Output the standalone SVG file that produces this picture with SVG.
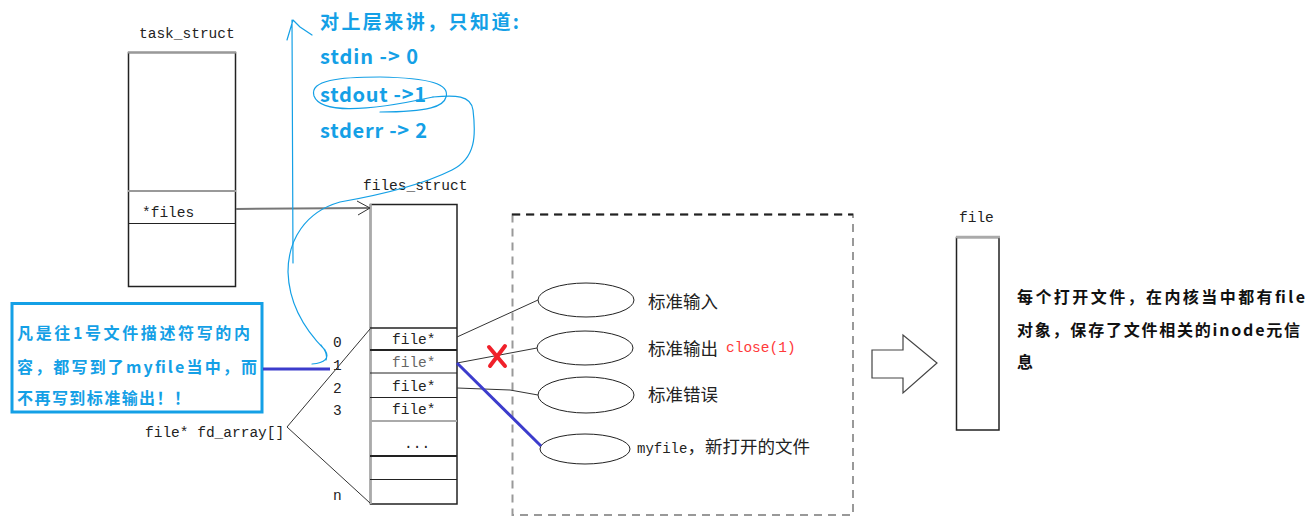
<svg xmlns="http://www.w3.org/2000/svg" width="1311" height="529" viewBox="0 0 1311 529">
<style>
.mono{font-family:"Liberation Mono","DejaVu Sans Mono",monospace;font-size:14.5px;fill:#222}
.cn{font-family:"Noto Sans CJK SC","Noto Sans",sans-serif;font-size:17.5px;fill:#222}
.blue{font-family:"Noto Sans CJK SC","Noto Sans",sans-serif;font-weight:bold;fill:#14a0e6}
.bold{font-family:"Noto Sans CJK SC","Noto Sans",sans-serif;font-weight:bold;font-size:16px;fill:#111}
.dk{stroke:#222;fill:none}
.conn{stroke:#333;stroke-width:1;fill:none}
.hand{stroke:#14a0e6;stroke-width:1.2;fill:none;stroke-linecap:round;stroke-linejoin:round}
</style>
<rect width="1311" height="529" fill="#fff"/>

<g id="task_struct">
<text class="mono" x="139" y="38">task_struct</text>
<rect x="128.5" y="52.5" width="107" height="234" class="dk" stroke-width="1.5"/>
<line x1="128" y1="52.5" x2="236" y2="52.5" stroke="#999" stroke-width="2"/>
<line x1="128" y1="191" x2="236" y2="191" stroke="#999" stroke-width="2"/>
<line x1="128" y1="223.5" x2="236" y2="223.5" class="dk"/>
<text class="mono" x="142" y="217">*files</text>
</g>

<g id="files_struct">
<text class="mono" x="363" y="190">files_struct</text>
<rect x="370.5" y="204.5" width="86.5" height="299.5" class="dk" stroke-width="1.5"/>
<line x1="370.5" y1="204" x2="370.5" y2="504" stroke="#aaa" stroke-width="2.5"/>
<line x1="370" y1="328" x2="457" y2="328" class="dk" stroke-width="1.5"/>
<line x1="370" y1="350" x2="457" y2="350" class="dk" stroke-width="1.8"/>
<line x1="370" y1="373" x2="457" y2="373" class="dk"/>
<line x1="370" y1="397.5" x2="457" y2="397.5" class="dk"/>
<line x1="370" y1="421" x2="457" y2="421" stroke="#aaa" stroke-width="2"/>
<line x1="370" y1="456" x2="457" y2="456" class="dk" stroke-width="1.8"/>
<line x1="370" y1="479.5" x2="457" y2="479.5" class="dk"/>
<text class="mono" x="392" y="344">file*</text>
<text class="mono" x="392" y="367" style="fill:#666">file*</text>
<text class="mono" x="392" y="391">file*</text>
<text class="mono" x="392" y="414">file*</text>
<text class="mono" x="404" y="448">...</text>
<text class="mono" x="333" y="347">0</text>
<text class="mono" x="333" y="370">1</text>
<text class="mono" x="333" y="393">2</text>
<text class="mono" x="333" y="415">3</text>
<text class="mono" x="333" y="500">n</text>
<text class="mono" x="145" y="437">file* fd_array[]</text>
</g>

<g id="file_group">
<rect x="512.5" y="214.5" width="340.5" height="300.5" fill="none" stroke="#999" stroke-width="2" stroke-dasharray="8,6"/>
<line x1="512" y1="214.5" x2="853" y2="214.5" stroke="#222" stroke-width="2" stroke-dasharray="8,6"/>
</g>

<g id="stdin">
<ellipse cx="586" cy="300" rx="48" ry="17" class="dk"/>
<text class="cn" x="648" y="308">标准输入</text>
</g>
<g id="stdout">
<ellipse cx="585" cy="348" rx="48" ry="17" class="dk"/>
<text class="cn" x="648" y="355">标准输出</text>
<text class="mono" x="726" y="352" style="fill:#ff3a3a">close(1)</text>
</g>
<g id="stderr">
<ellipse cx="586" cy="395" rx="48" ry="18" class="dk"/>
<text class="cn" x="648" y="401">标准错误</text>
</g>
<g id="myfile">
<ellipse cx="585" cy="449" rx="45" ry="15" class="dk"/>
<text x="637" y="453"><tspan class="mono" style="font-size:14px">myfile</tspan><tspan class="cn">，新打开的文件</tspan></text>
</g>

<g id="file">
<text class="mono" x="959" y="222">file</text>
<rect x="956.5" y="237.5" width="42.5" height="192.5" class="dk" stroke-width="1.5"/>
<line x1="956" y1="237" x2="1000" y2="237" stroke="#aaa" stroke-width="2.5"/>
</g>

<g id="big_arrow">
<polygon points="872,350 903,350 903,335 937,363 903,393 903,378 872,378" fill="#fff" stroke="#444" stroke-width="1.2"/>
</g>

<g id="file_note">
<text class="bold" x="1017" y="303" textLength="288" lengthAdjust="spacing">每个打开文件，在内核当中都有file</text>
<text class="bold" x="1017" y="336" textLength="283" lengthAdjust="spacing">对象，保存了文件相关的inode元信</text>
<text class="bold" x="1017" y="368">息</text>
</g>

<g id="top_note">
<text class="blue" x="320" y="29" font-size="19" textLength="199" lengthAdjust="spacing">对上层来讲，只知道:</text>
<text class="blue" x="320" y="64" font-size="20" textLength="98" lengthAdjust="spacing">stdin -&gt; 0</text>
<text class="blue" x="320" y="102" font-size="20" textLength="106" lengthAdjust="spacing">stdout -&gt;1</text>
<text class="blue" x="320" y="138" font-size="20" textLength="107" lengthAdjust="spacing">stderr -&gt; 2</text>
</g>

<g id="callout">
<rect x="12" y="303.5" width="250" height="108.5" fill="#fff" stroke="#14a0e6" stroke-width="3"/>
<text class="blue" x="17" y="339" font-size="16" textLength="233" lengthAdjust="spacing">凡是往1号文件描述符写的内</text>
<text class="blue" x="17" y="373" font-size="16" textLength="240" lengthAdjust="spacing">容，都写到了myfile当中，而</text>
<text class="blue" x="17" y="404" font-size="16" textLength="173" lengthAdjust="spacing">不再写到标准输出！！</text>
</g>

<g id="connectors">
<line x1="236" y1="209" x2="369" y2="208" stroke="#777" stroke-width="2"/>
<polyline points="357,201 370,208 358,215" class="conn"/>
<line x1="287" y1="427" x2="370" y2="329" class="conn" stroke="#555"/>
<line x1="287" y1="427" x2="370" y2="503" class="conn" stroke="#555"/>
<line x1="457" y1="337" x2="538" y2="300" class="conn"/>
<line x1="457" y1="363" x2="537" y2="348" class="conn"/>
<polyline points="457,388 510,390 538,395" class="conn"/>
<line x1="457" y1="363" x2="541" y2="446" stroke="#3c3ccc" stroke-width="3"/>
<line x1="263" y1="369" x2="330" y2="369" stroke="#3c3ccc" stroke-width="3"/>
<g stroke="#f0202a" stroke-width="4" stroke-linecap="round">
<line x1="489" y1="347" x2="505" y2="366"/>
<line x1="505" y1="346" x2="490" y2="366"/>
</g>
<path class="hand" d="M293,263 L292,20 M287,40 L293,20 L300,27 L312,35"/>
<path class="hand" d="M433,97 C360,113 320,112 314,96 C309,80 340,77 380,77 C430,78 450,84 446,97 C444,106 430,112 380,112"/>
<path class="hand" d="M433,97 C455,95 471,95 473,110 C476,135 476,158 452,170 C420,186 380,195 340,202 C305,212 288,240 288,272 C289,305 305,330 325,350 C330,358 325,363 312,364 M321,345 C325,350 328,355 326,360"/>
</g>
</svg>
